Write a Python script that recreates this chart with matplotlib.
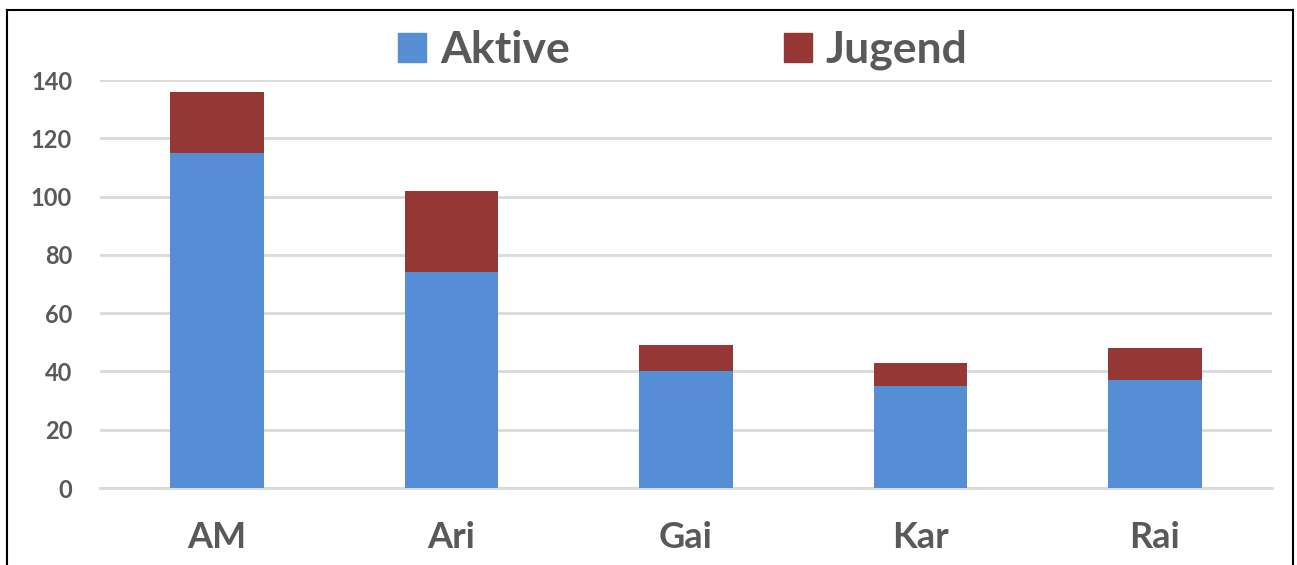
import matplotlib
matplotlib.use("Agg")
import matplotlib.pyplot as plt
from matplotlib.lines import Line2D

categories = ["AM", "Ari", "Gai", "Kar", "Rai"]
aktive = [115, 74, 40, 35, 37]
jugend = [21, 28, 9, 8, 11]
yticks = [0, 20, 40, 60, 80, 100, 120, 140]

blue = "#558ED5"
red = "#953735"
txt = "#595959"

plt.rcParams['font.family'] = ['Lato', 'DejaVu Sans']

fig = plt.figure(figsize=(12.97, 5.65), dpi=100)
ax = fig.add_axes([100/1297, 1-488/565, 1172/1297, 408/565])

x = range(len(categories))
ax.bar(x, aktive, width=0.40, color=blue, zorder=3)
ax.bar(x, jugend, bottom=aktive, width=0.40, color=red, zorder=3)

ax.set_xlim(-0.5, len(categories) - 0.5)
ax.set_ylim(0, 140)
ax.set_yticks(yticks)
ax.set_yticklabels([str(v) for v in yticks], fontsize=17, fontweight='bold', color=txt)
ax.set_xticks(list(x))
ax.set_xticklabels(categories, fontsize=26, fontweight='bold', color=txt)
ax.tick_params(axis='both', length=0)
ax.tick_params(axis='y', pad=20)
ax.tick_params(axis='x', pad=24)
ax.grid(axis='y', color='#D9D9D9', linewidth=2, zorder=0)
ax.set_axisbelow(True)
for s in ax.spines.values():
    s.set_visible(False)
ax.spines['bottom'].set_visible(True)
ax.spines['bottom'].set_color('#D9D9D9')
ax.spines['bottom'].set_linewidth(2)
ax.spines['bottom'].set_zorder(1)

handles = [plt.Rectangle((0, 0), 1, 1, color=blue), plt.Rectangle((0, 0), 1, 1, color=red)]
leg = fig.legend(handles, ["Aktive", "Jugend"], loc='center', bbox_to_anchor=(683/1297, 1-50/565),
                 ncol=2, frameon=False, handlelength=0.63, handleheight=0.63, handletextpad=0.32,
                 columnspacing=4.8, borderpad=0, borderaxespad=0,
                 prop={'size': 32, 'weight': 'bold'})
for t in leg.get_texts():
    t.set_color(txt)

# outer border (left, top, right)
fig.add_artist(Line2D([7/1297, 7/1297], [0, 1-10/565], color='black', linewidth=1.5, transform=fig.transFigure))
fig.add_artist(Line2D([7/1297, 1293/1297], [1-10/565, 1-10/565], color='black', linewidth=1.5, transform=fig.transFigure))
fig.add_artist(Line2D([1293/1297, 1293/1297], [0, 1-10/565], color='black', linewidth=1.5, transform=fig.transFigure))

fig.savefig("out.png", dpi=100)
